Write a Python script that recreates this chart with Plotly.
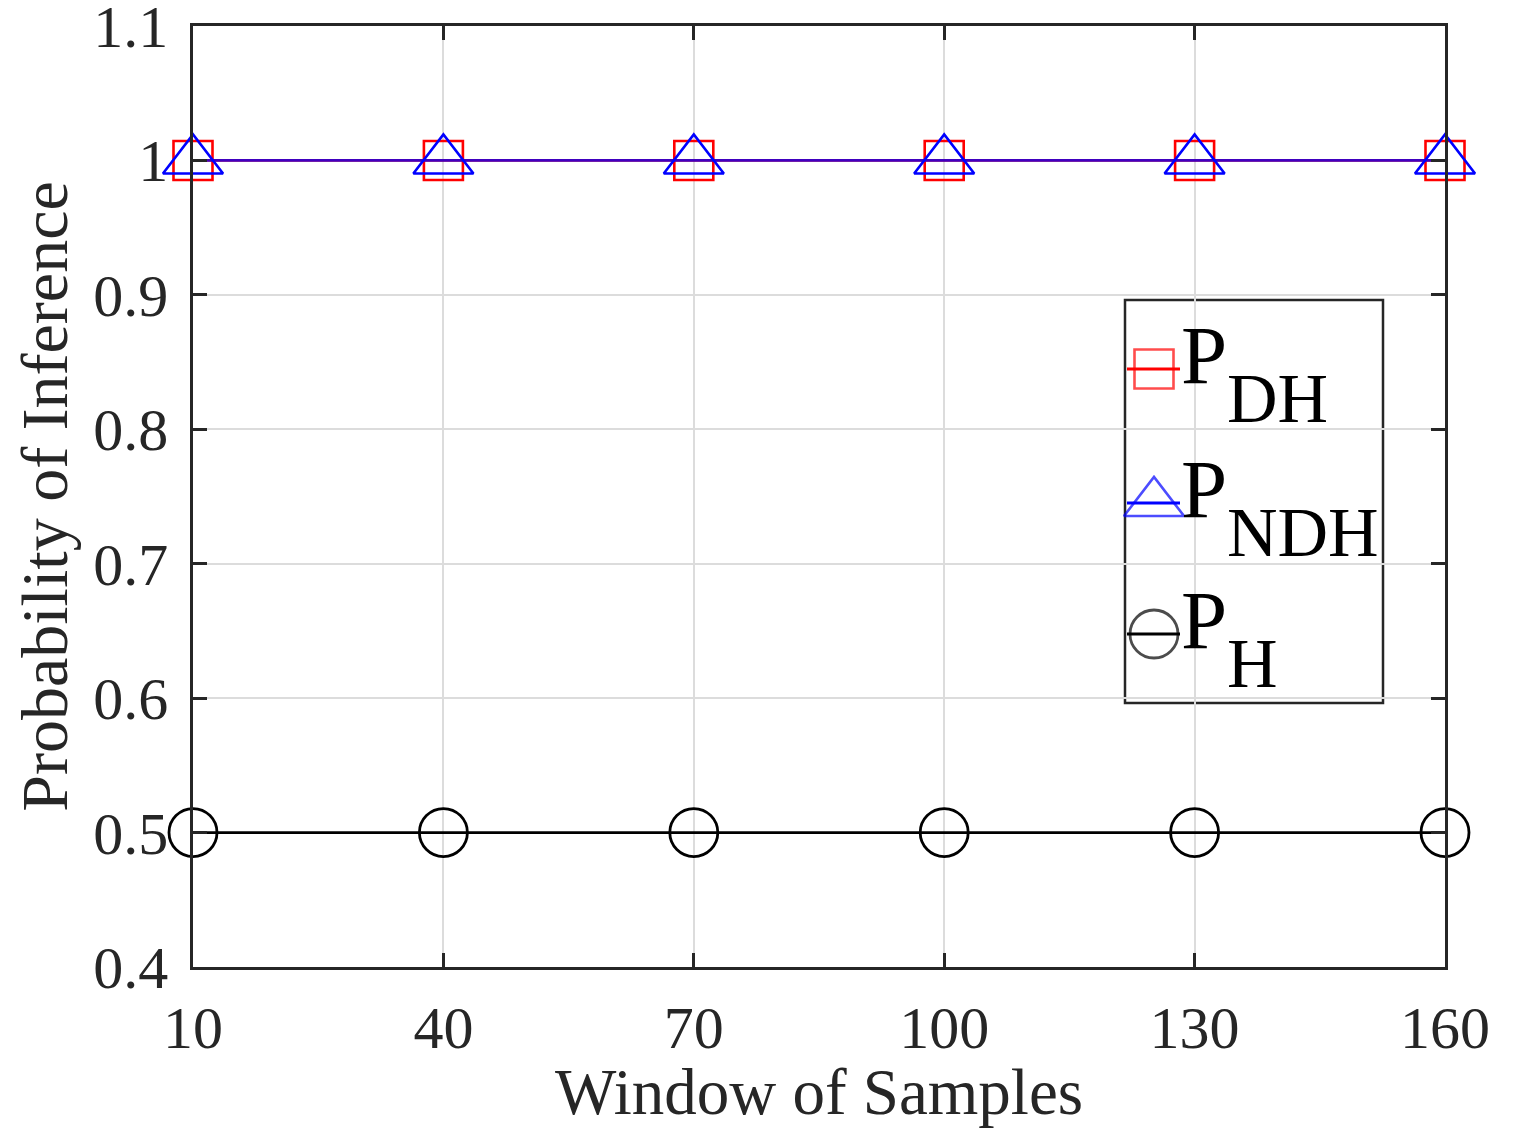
import plotly.graph_objects as go

# ---- data ----
window = [10, 40, 70, 100, 130, 160]
p_dh = [1.0, 1.0, 1.0, 1.0, 1.0, 1.0]
p_ndh = [1.0, 1.0, 1.0, 1.0, 1.0, 1.0]
p_h = [0.5, 0.5, 0.5, 0.5, 0.5, 0.5]
y_tickvals = [0.4, 0.5, 0.6, 0.7, 0.8, 0.9, 1.0, 1.1]
y_ticktext = ["0.4", "0.5", "0.6", "0.7", "0.8", "0.9", "1", "1.1"]
x_tickvals = [10, 40, 70, 100, 130, 160]
x_ticktext = ["10", "40", "70", "100", "130", "160"]

FONT = "Liberation Serif"
OFF = 8  # page body margin
W, H = 1514 - OFF, 1128 - OFF
L, T = 193 - OFF, 26 - OFF
PW, PH = 1252, 941
R = W - L - PW
B = H - T - PH

def px_x(x):
    return (x - OFF - L) / PW

def px_y(y):
    return (T + PH - (y - OFF)) / PH

fig = go.Figure()

series = [
    dict(y=p_dh, color="#ff0000", symbol="square-open", size=39, lw=2.6),
    dict(y=p_ndh, color="rgba(0,0,255,0.75)", symbol="triangle-up-open", size=52, lw=2.6),
    dict(y=p_h, color="#000000", symbol="circle-open", size=48, lw=2.8),
]
mcolors = ["#ff0000", "#0000ff", "#000000"]

for s, mc in zip(series, mcolors):
    fig.add_trace(go.Scatter(
        x=window, y=s["y"], mode="lines+markers",
        line=dict(color=s["color"], width=2.8),
        marker=dict(symbol=s["symbol"], size=s["size"], color=mc,
                    line=dict(width=s["lw"], color=mc)),
        showlegend=False, cliponaxis=False,
    ))

# ---- custom legend (large symbols like the reference) ----
leg_rows = [369, 503, 634]
leg_x = [px_x(1127), px_x(1154), px_x(1180)]
for s, mc, ry in zip(series, mcolors, leg_rows):
    yy = px_y(ry)
    fig.add_trace(go.Scatter(
        x=leg_x, y=[yy, yy, yy], xaxis="x2", yaxis="y2",
        mode="lines+markers",
        line=dict(color=mc, width=2.8),
        marker=dict(symbol=s["symbol"], size=[0, s["size"], 0], color=mc,
                    line=dict(width=s["lw"], color=mc)),
        showlegend=False, hoverinfo="skip", cliponaxis=False,
    ))

labels = [("P", "DH", 380, 420), ("P", "NDH", 514, 553), ("P", "H", 645, 684)]
annotations = []
for main, sub, b1, b2 in labels:
    annotations.append(dict(
        x=px_x(1180), y=px_y(b1 - 0.30 * 83), xref="paper", yref="paper",
        text=main, showarrow=False, xanchor="left", yanchor="middle",
        font=dict(family=FONT, size=83, color="black"), borderpad=0))
    annotations.append(dict(
        x=px_x(1226), y=px_y(b2 - 0.30 * 70), xref="paper", yref="paper",
        text=sub, showarrow=False, xanchor="left", yanchor="middle",
        font=dict(family=FONT, size=70, color="black"), borderpad=0))

shapes = [dict(type="rect", xref="paper", yref="paper",
               x0=px_x(1125), x1=px_x(1383), y0=px_y(703), y1=px_y(300),
               line=dict(color="#262626", width=2.5), fillcolor="white",
               layer="below")]

axis_common = dict(
    showgrid=True, gridcolor="#dcdcdc", gridwidth=2,
    showline=True, linecolor="#262626", linewidth=2.5, mirror="ticks",
    ticks="inside", ticklen=14, tickwidth=2.5, tickcolor="#262626",
    tickfont=dict(family=FONT, size=60, color="#262626"),
    zeroline=False, ticklabeloverflow="allow", automargin=False,
)

fig.update_layout(
    width=W, height=H, autosize=False,
    margin=dict(l=L, r=R, t=T, b=B),
    paper_bgcolor="white", plot_bgcolor="white",
    xaxis=dict(range=[10, 160], tickmode="array", tickvals=x_tickvals,
               ticktext=x_ticktext, ticklabelstandoff=6,
               title=dict(text="Window of Samples", standoff=2,
                          font=dict(family=FONT, size=65, color="#262626")),
               **axis_common),
    yaxis=dict(range=[0.4, 1.1], tickmode="array", tickvals=y_tickvals,
               ticktext=y_ticktext, ticklabelstandoff=10,
               title=dict(text="Probability of Inference", standoff=12,
                          font=dict(family=FONT, size=66, color="#262626")),
               **axis_common),
    xaxis2=dict(range=[0, 1], overlaying="x", anchor="y2", visible=False,
                fixedrange=True, automargin=False),
    yaxis2=dict(range=[0, 1], overlaying="y", anchor="x2", visible=False,
                fixedrange=True, automargin=False),
    shapes=shapes,
    annotations=annotations,
)

fig.write_html("out.html")
